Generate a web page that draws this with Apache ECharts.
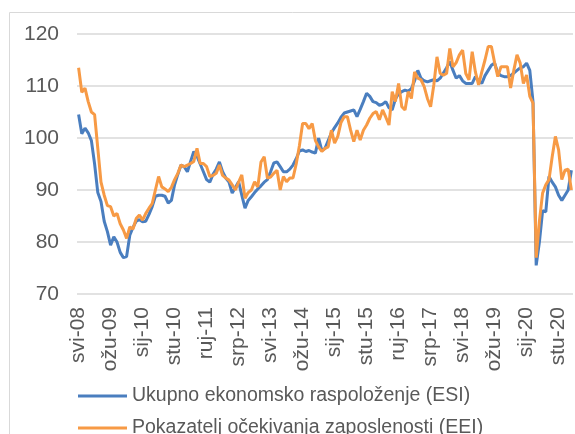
<!DOCTYPE html>
<html>
<head>
<meta charset="utf-8">
<script src="https://cdn.jsdelivr.net/npm/echarts@6/dist/echarts.min.js"></script>
<style>
  html, body { margin: 0; padding: 0; background: #fff; }
  #chart { width: 575px; height: 434px; }
</style>
</head>
<body>
<div id="chart"></div>
<script>
// month names (Croatian) and the span of the data: svi-08 .. ožu-21
const monthNames = ['sij', 'velj', 'ožu', 'tra', 'svi', 'lip', 'srp', 'kol', 'ruj', 'lis', 'stu', 'pro'];
const startYear = 2008, startMonth = 4, monthCount = 155;

const categories = [];
for (let k = 0; k < monthCount; k++) {
    let m = (startMonth + k) % 12;
    let y = startYear + Math.floor((startMonth + k) / 12);
    categories.push(monthNames[m] + '-' + String(y % 100).padStart(2, '0'));
}

const esiName = 'Ukupno ekonomsko raspoloženje (ESI)';
const eeiName = 'Pokazatelj očekivanja zaposlenosti (EEI)';

const esi = [
    104.5, 100.8, 101.9, 101, 99.5, 95, 89.5, 87.8, 84, 82,
    79.4, 81, 80, 78, 77, 77.2, 81.3, 82.8, 84, 84.3,
    83.9, 84, 85.3, 86.8, 88.8, 89, 89, 88.8, 87.5, 88,
    91, 93, 94.8, 94.5, 93.5, 95.5, 97.4, 96.5, 95, 93.5,
    92, 91.5, 93, 94, 95.4, 93.5, 92.3, 91.5, 89.4, 90.5,
    91.6, 89, 86.5, 88, 88.7, 89.5, 90.2, 90.8, 91.5, 92,
    93.5, 95.2, 95.4, 94.5, 93.5, 93.5, 94, 94.8, 96, 97.5,
    97.7, 97.4, 97.6, 97.3, 97.1, 100, 97.6, 98, 99.5, 101,
    102, 102.9, 104, 104.8, 105, 105.2, 105.4, 104.1, 105.5, 107,
    108.6, 108, 107, 106.8, 106.3, 106.5, 107, 105.8, 105.4, 107.5,
    108.5, 108.9, 109.2, 109, 109.5, 111, 113, 111.5, 111, 110.8,
    111, 111.2, 111, 111.5, 112.5, 113.5, 114.7, 113, 111.5, 112,
    111, 110.5, 110.5, 110.5, 111.8, 111, 110.5, 112, 113, 114,
    114.4, 112.5, 112, 111.8, 111.8, 112, 112.5, 113, 113.5, 113.7,
    114.4, 113, 107, 75.5, 80, 86, 85.8, 92.6, 91.5, 90.6,
    89, 88, 89, 90, 93.8
];

const eei = [
    113.5, 108.8, 109.6, 107, 105, 104.5, 98, 91.5, 89, 87,
    86.8, 85, 85.5, 83.5, 82.3, 80.7, 82.9, 82.5, 84.5, 85.2,
    84.2, 85.5, 86.5, 87.4, 90, 92.6, 90.6, 90.2, 89.7, 90.5,
    92, 93.2, 94.8, 94.5, 94.8, 95.1, 95.5, 98, 95.1, 95.1,
    94.5, 92.6, 92.8, 93.2, 94.8, 92.8, 92.3, 91.9, 91, 90,
    91.5, 92.9, 88.4, 89.5, 90, 91.6, 90.6, 95.4, 96.4, 92.3,
    92.5, 93.2, 93.8, 90, 92.6, 91.6, 92.3, 92.3, 95, 98.5,
    102.8, 102.8, 101.8, 102.8, 99.5, 98.3, 97.4, 98, 98.3, 101.5,
    99, 100.3, 103, 104.1, 104.1, 101.5, 99.3, 101.5, 99.6, 101.5,
    102.5, 103.8, 104.7, 105.1, 103.5, 105.4, 104, 102.5, 108.9, 107,
    110.5, 106, 105.4, 108.9, 107.6, 112.7, 111.5, 111.2, 109.9, 107.6,
    106, 110.2, 115.6, 112.4, 112.1, 112.4, 117.2, 113.7, 114.5, 116,
    116.9, 112.4, 111.2, 116.6, 112.7, 110.2, 112.7, 115, 117.6, 117.6,
    114.5, 111.8, 113.7, 113.7, 113.7, 109.6, 113, 116, 114.4, 110.5,
    112.1, 108, 106.7, 77, 84, 89.4, 91, 92, 96.4, 100.3,
    97.7, 92, 93.8, 94, 90
];

const yTicks = [70, 80, 90, 100, 110, 120];

const textColor = '#595959';
const fontFamily = 'Liberation Sans, Arial, sans-serif';

let chart = echarts.init(document.getElementById('chart'), null, { renderer: 'canvas' });

let option = {
    animation: false,
    textStyle: { fontFamily: fontFamily },
    graphic: [
        {
            type: 'rect',
            shape: { x: 9.5, y: 12.5, width: 600, height: 500 },
            style: { fill: 'none', stroke: '#d9d9d9', lineWidth: 1 },
            silent: true
        }
    ],
    grid: {
        left: 77,
        right: 2,
        top: 34,
        bottom: 140
    },
    legend: {
        orient: 'vertical',
        left: 78,
        top: 386,
        height: 80,
        padding: 0,
        itemWidth: 49,
        itemHeight: 3,
        itemGap: 12,
        icon: 'rect',
        textStyle: { color: textColor, fontSize: 19.5, fontFamily: fontFamily },
        data: [esiName, eeiName]
    },
    xAxis: {
        type: 'category',
        boundaryGap: true,
        data: categories,
        axisLine: { show: false },
        axisTick: { show: false },
        axisLabel: {
            interval: 9,
            rotate: 90,
            margin: 13,
            color: textColor,
            fontSize: 21,
            fontFamily: fontFamily
        }
    },
    yAxis: {
        type: 'value',
        min: yTicks[0],
        max: yTicks[yTicks.length - 1],
        interval: 10,
        axisLine: { show: false },
        axisTick: { show: false },
        axisLabel: {
            margin: 18,
            color: textColor,
            fontSize: 21,
            fontFamily: fontFamily
        },
        splitLine: { lineStyle: { color: '#d9d9d9', width: 1.5 } }
    },
    series: [
        {
            name: esiName,
            type: 'line',
            data: esi,
            showSymbol: false,
            symbol: 'none',
            color: '#4a7ebf',
            lineStyle: { width: 3, color: '#4a7ebf' }
        },
        {
            name: eeiName,
            type: 'line',
            data: eei,
            showSymbol: false,
            symbol: 'none',
            color: '#f79a45',
            lineStyle: { width: 3, color: '#f79a45' }
        }
    ]
};

chart.setOption(option);
</script>
</body>
</html>
